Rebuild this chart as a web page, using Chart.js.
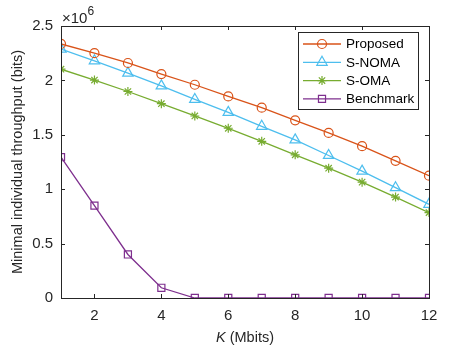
<!DOCTYPE html>
<html>
<head>
<meta charset="utf-8">
<script src="https://cdn.jsdelivr.net/npm/chart.js@4.4.1/dist/chart.umd.min.js"></script>
<style>
  html, body { margin: 0; padding: 0; background: #fff; }
  #wrap { width: 474px; height: 351px; }
</style>
</head>
<body>
<div id="wrap"><canvas id="myChart" width="474" height="351"></canvas></div>
<script>
const k_values = [1, 2, 3, 4, 5, 6, 7, 8, 9, 10, 11, 12];
const proposed = [2.335, 2.25, 2.16, 2.058, 1.96, 1.853, 1.749, 1.633, 1.517, 1.395, 1.261, 1.124];
const s_noma = [2.287, 2.18, 2.067, 1.95, 1.825, 1.706, 1.578, 1.453, 1.31, 1.166, 1.014, 0.861];
const s_oma = [2.103, 2.003, 1.898, 1.786, 1.673, 1.56, 1.44, 1.316, 1.193, 1.065, 0.928, 0.785];
const benchmark = [1.294, 0.849, 0.40, 0.094, 0, 0, 0, 0, 0, 0, 0, 0];
const x_ticks = [2, 4, 6, 8, 10, 12];
const y_ticks = [0, 0.5, 1, 1.5, 2, 2.5];

const FONT = '"Liberation Sans", Arial, Helvetica, sans-serif';
const AXIS_COLOR = '#262626';

function toPoints(vals) {
    return vals.map((v, i) => ({ x: k_values[i], y: v * 1e6 }));
}

const series = [
    { label: 'Proposed', data: proposed, color: '#D95319', style: 'circle', r: 4.5 },
    { label: 'S-NOMA', data: s_noma, color: '#4DBEEE', style: 'triangle', r: 6 },
    { label: 'S-OMA', data: s_oma, color: '#77AC30', style: 'star', r: 4.5 },
    { label: 'Benchmark', data: benchmark, color: '#7E2F8E', style: 'rect', r: 5 },
];

const datasets = series.map(s => ({
    label: s.label,
    data: toPoints(s.data),
    borderColor: s.color,
    backgroundColor: 'rgba(0,0,0,0)',
    borderWidth: 1.3,
    pointStyle: s.style,
    pointRadius: s.r,
    pointBorderWidth: 1.2,
    pointBorderColor: s.color,
    pointBackgroundColor: 'rgba(0,0,0,0)',
    tension: 0,
}));

// box, inward ticks, axis titles, exponent and legend (matlab look)
const matlabDecor = {
    id: 'matlabDecor',
    afterDraw(chart) {
        const ctx = chart.ctx;
        const a = chart.chartArea;
        const xs = chart.scales.x, ys = chart.scales.y;
        const tl = 4;
        ctx.save();
        ctx.strokeStyle = AXIS_COLOR;
        ctx.lineWidth = 1;
        ctx.beginPath();
        x_ticks.forEach(v => {
            const px = Math.round(xs.getPixelForValue(v)) + 0.5;
            ctx.moveTo(px, a.bottom); ctx.lineTo(px, a.bottom - tl);
            ctx.moveTo(px, a.top); ctx.lineTo(px, a.top + tl);
        });
        y_ticks.forEach(v => {
            const py = Math.round(ys.getPixelForValue(v * 1e6)) + 0.5;
            ctx.moveTo(a.left, py); ctx.lineTo(a.left + tl, py);
            ctx.moveTo(a.right, py); ctx.lineTo(a.right - tl, py);
        });
        ctx.stroke();
        ctx.strokeRect(Math.round(a.left) + 0.5, Math.round(a.top) + 0.5,
            Math.round(a.right - a.left), Math.round(a.bottom - a.top));

        // x10^6
        ctx.fillStyle = AXIS_COLOR;
        ctx.textBaseline = 'alphabetic';
        ctx.textAlign = 'left';
        ctx.font = '15px ' + FONT;
        ctx.fillText('\u00d710', a.left + 1, a.top - 3);
        const w = ctx.measureText('\u00d710').width;
        ctx.font = '12px ' + FONT;
        ctx.fillText('6', a.left + 1 + w, a.top - 11);

        // x label
        ctx.font = 'italic 14.5px ' + FONT;
        const kW = ctx.measureText('K').width;
        ctx.font = '14.5px ' + FONT;
        const restW = ctx.measureText(' (Mbits)').width;
        const cx = (a.left + a.right) / 2;
        const startX = cx - (kW + restW) / 2;
        ctx.textBaseline = 'middle';
        ctx.font = 'italic 14.5px ' + FONT;
        ctx.fillText('K', startX, 338);
        ctx.font = '14.5px ' + FONT;
        ctx.fillText(' (Mbits)', startX + kW, 338);

        // y label
        ctx.save();
        ctx.translate(18, (a.top + a.bottom) / 2);
        ctx.rotate(-Math.PI / 2);
        ctx.textAlign = 'center';
        ctx.fillText('Minimal individual throughput (bits)', 0, 0);
        ctx.restore();

        // legend
        const lx = 298, ly = 32, lw = 120, lh = 77;
        ctx.fillStyle = '#fff';
        ctx.fillRect(lx, ly, lw, lh);
        ctx.strokeStyle = AXIS_COLOR;
        ctx.lineWidth = 1;
        ctx.strokeRect(lx + 0.5, ly + 0.5, lw, lh);
        series.forEach((s, i) => {
            const y = 44 + i * 18.3;
            ctx.strokeStyle = s.color;
            ctx.lineWidth = 1.3;
            ctx.beginPath();
            ctx.moveTo(303, y); ctx.lineTo(341, y);
            ctx.stroke();
            ctx.lineWidth = 1.2;
            ctx.fillStyle = 'rgba(0,0,0,0)';
            Chart.helpers.drawPoint(ctx, { pointStyle: s.style, radius: s.r, rotation: 0, borderWidth: 1.2 }, 322, y);
            ctx.fillStyle = '#000';
            ctx.textAlign = 'left';
            ctx.textBaseline = 'middle';
            ctx.font = '13.5px ' + FONT;
            ctx.fillText(s.label, 346, y + 0.5);
        });
        ctx.restore();
    }
};

const ctx = document.getElementById('myChart').getContext('2d');
const chart = new Chart(ctx, {
    type: 'line',
    data: { datasets: datasets },
    options: {
        responsive: false,
        animation: false,
        events: [],
        layout: { padding: { left: 0, top: 26, right: 45, bottom: 0 } },
        plugins: { legend: { display: false }, tooltip: { enabled: false } },
        scales: {
            x: {
                type: 'linear',
                min: 1,
                max: 12,
                grid: { display: false, drawTicks: false },
                border: { display: false },
                afterBuildTicks: (scale) => { scale.ticks = x_ticks.map(v => ({ value: v })); },
                afterFit: (scale) => { scale.height = 53; },
                ticks: { color: AXIS_COLOR, font: { family: FONT, size: 15 }, padding: 9, maxRotation: 0, autoSkip: false },
            },
            y: {
                type: 'linear',
                min: 0,
                max: 2.5e6,
                grid: { display: false, drawTicks: false },
                border: { display: false },
                afterBuildTicks: (scale) => { scale.ticks = y_ticks.map(v => ({ value: v * 1e6 })); },
                afterFit: (scale) => { scale.width = 61; },
                ticks: { color: AXIS_COLOR, font: { family: FONT, size: 15 }, padding: 8, callback: (v) => String(v / 1e6) },
            },
        },
    },
    plugins: [matlabDecor],
});
</script>
</body>
</html>
